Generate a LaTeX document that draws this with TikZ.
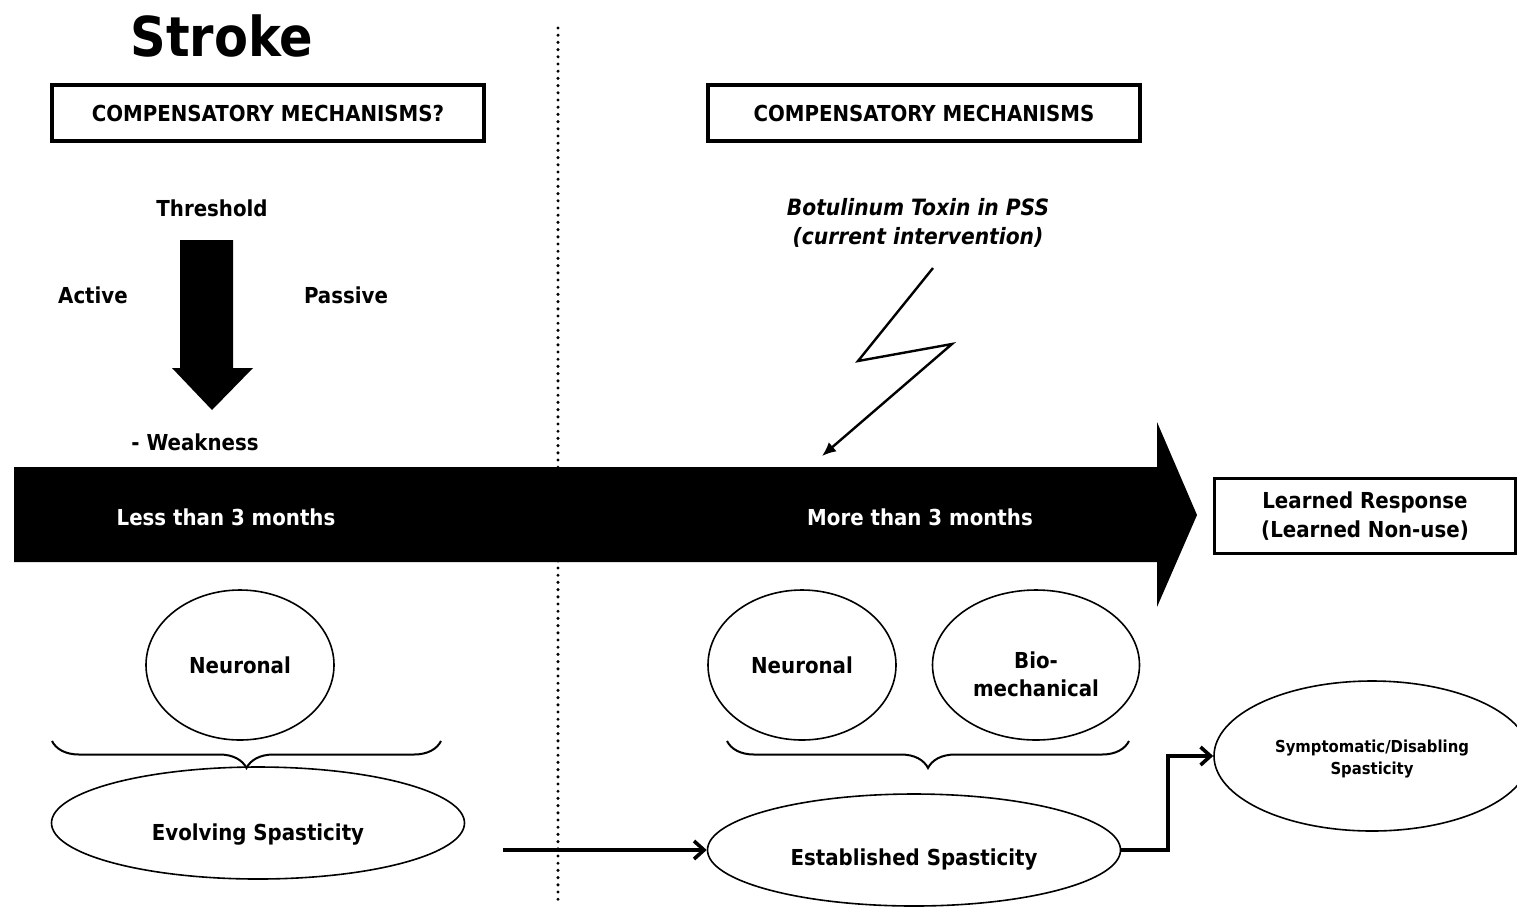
\documentclass[tikz,border=0pt]{standalone}
\usepackage{fontspec}
\setmainfont{DejaVu Sans Condensed}
\usetikzlibrary{shapes.geometric,arrows.meta,decorations.pathreplacing}
\begin{document}
\begin{tikzpicture}[x=1pt,y=-1pt,
  txt/.style={font=\bfseries\fontsize{22}{26}\selectfont, inner sep=0pt, align=center},
  titlebox/.style={draw, line width=3.4pt, minimum width=432pt, minimum height=56pt, inner sep=0pt,
    font=\bfseries\fontsize{22}{26}\selectfont},
  bubble/.style={draw, ellipse, line width=1.6pt, inner sep=0pt, align=center,
    font=\bfseries\fontsize{22}{28}\selectfont},
  caption/.style={inner sep=0pt, align=center, font=\bfseries\fontsize{22}{28}\selectfont},
  link/.style={line width=3.6pt, -{Straight Barb[length=10pt,width=18pt,line width=3.6pt]}},
  spiky/.style={line width=2.4pt, -{Latex[length=14pt,width=12pt]}},
  curly/.style={decorate, decoration={brace, mirror, amplitude=27pt, aspect=0.5}, line width=2pt},
]
\useasboundingbox (0,0) rectangle (1517,906);

% phase divider
\draw[line width=3.4pt, dash pattern=on 0pt off 7.2pt, line cap=round] (558,28) -- (558,906);

% heading
\node[font=\bfseries\fontsize{55}{62}\selectfont, inner sep=0pt] (stroke) at (222,36) {Stroke};
\node[titlebox] (comp1) at (268,113) {COMPENSATORY MECHANISMS?};
\node[titlebox] (comp2) at (924,113) {COMPENSATORY MECHANISMS};

% threshold block arrow
\node[txt] (thr) at (212,208) {Threshold};
\node[txt] (act) at (93,295) {Active};
\node[txt] (pas) at (346,295) {Passive};
\node[txt] (weak) at (195,442) {- Weakness};
\fill (180,240) -- (233,240) -- (233,368) -- (253,368) -- (212,410) -- (172,368) -- (180,368) -- cycle;

% time line arrow
\fill (14,467) -- (1157,467) -- (1157,422) -- (1197,515) -- (1157,607) -- (1157,562) -- (14,562) -- cycle;
\node[txt, text=white] (early) at (226,517) {Less than 3 months};
\node[txt, text=white] (late) at (920,517) {More than 3 months};

% intervention
\node[txt, font=\bfseries\itshape\fontsize{22.5}{29}\selectfont] (botox) at (918,223)
  {Botulinum Toxin in PSS\\(current intervention)};
\coordinate (z0) at (933,268);
\coordinate (z1) at (858,361);
\coordinate (z2) at (952,344);
\coordinate (z3) at (822,456);
\draw[spiky, line join=miter] (z0) -- (z1) -- (z2) -- (z3);

% outcome box
\node[draw, line width=3.4pt, minimum width=301pt, minimum height=75pt, inner sep=0pt, align=center,
  font=\bfseries\fontsize{22}{29}\selectfont] (learn) at (1365,516)
  {Learned Response\\(Learned Non-use)};

% early mechanisms
\node[bubble, minimum width=188pt, minimum height=150pt] (neu1) at (240,665) {Neuronal};
\draw[curly] (52,741) -- (441,741);
\node[bubble, minimum width=413pt, minimum height=112pt,
  label={[caption, yshift=-11pt]center:Evolving Spasticity}] (evo) at (258,823) {};

% late mechanisms
\node[bubble, minimum width=188pt, minimum height=150pt] (neu2) at (802,665) {Neuronal};
\node[bubble, minimum width=207pt, minimum height=150pt,
  label={[caption, yshift=-9pt]center:Bio-\\mechanical}] (bio) at (1036,665) {};
\draw[curly] (727,741) -- (1129,741);
\node[bubble, minimum width=413pt, minimum height=112pt,
  label={[caption, yshift=-9pt]center:Established Spasticity}] (est) at (914,850) {};

\node[bubble, minimum width=316pt, minimum height=150pt,
  label={[caption, font=\bfseries\fontsize{16.5}{22}\selectfont, yshift=-3pt]center:Symptomatic/Disabling\\Spasticity}]
  (sym) at (1372,756) {};

% progressions
\coordinate (a0) at (503,850);
\draw[link] (a0) -- (est.west);
\draw[link, line join=miter] (est.east) -- (1168,850) |- (sym.west);
\end{tikzpicture}
\end{document}
